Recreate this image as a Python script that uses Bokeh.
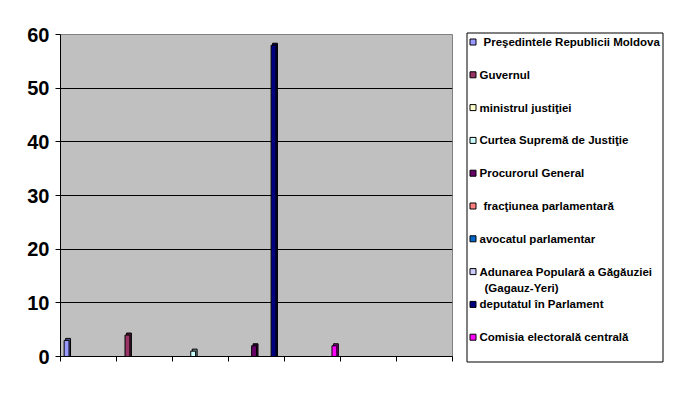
from bokeh.plotting import figure
from bokeh.layouts import row
from bokeh.models import Range1d, FixedTicker, ColumnDataSource
from bokeh.core.properties import value
from bokeh.embed import file_html
from bokeh.resources import INLINE

# ---------------- data ----------------
n_categories = 7
y_ticks = [0, 10, 20, 30, 40, 50, 60]

series_names = [
    " Preşedintele Republicii Moldova",
    "Guvernul",
    "ministrul justiţiei",
    "Curtea Supremă de Justiţie",
    "Procurorul General",
    " fracţiunea parlamentară",
    "avocatul parlamentar",
    "Adunarea Populară a Găgăuziei\n(Gagauz-Yeri)",
    "deputatul în Parlament",
    "Comisia electorală centrală",
]
series_colors = [
    "#9999FF", "#993366", "#FFFFCC", "#CCFFFF", "#660066",
    "#FF8080", "#0066CC", "#CCCCFF", "#000080", "#FF00FF",
]

presedintele = [3, 0, 0, 0, 0, 0, 0]
guvernul = [0, 4, 0, 0, 0, 0, 0]
ministrul = [0, 0, 0, 0, 0, 0, 0]
curtea = [0, 0, 1, 0, 0, 0, 0]
procurorul = [0, 0, 0, 2, 0, 0, 0]
fractiunea = [0, 0, 0, 0, 0, 0, 0]
avocatul = [0, 0, 0, 0, 0, 0, 0]
adunarea = [0, 0, 0, 0, 0, 0, 0]
deputatul = [0, 0, 0, 58, 0, 0, 0]
comisia = [0, 0, 0, 0, 2, 0, 0]

series_values = [presedintele, guvernul, ministrul, curtea, procurorul,
                 fractiunea, avocatul, adunarea, deputatul, comisia]

FONT = value("Liberation Sans")

# ---------------- chart ----------------
frame_w, frame_h = 392, 322
p = figure(width=462, height=394, output_backend="svg", toolbar_location=None,
           x_range=Range1d(0, n_categories), y_range=Range1d(0, 60),
           min_border_left=60, min_border_right=10, min_border_top=34,
           min_border_bottom=38, background_fill_color="#C0C0C0",
           border_fill_color="white", outline_line_color="#808080")
p.frame_align = False

p.yaxis.ticker = FixedTicker(ticks=y_ticks)
p.yaxis.major_label_text_font = "Liberation Sans"
p.yaxis.major_label_text_font_style = "bold"
p.yaxis.major_label_text_font_size = "20px"
p.yaxis.major_label_text_color = "black"
p.yaxis.axis_line_color = "black"
p.yaxis.major_tick_line_color = "black"
p.yaxis.major_tick_out = 5
p.yaxis.major_tick_in = 0
p.yaxis.minor_tick_line_color = None
p.yaxis.major_label_standoff = 6

p.xaxis.ticker = FixedTicker(ticks=list(range(n_categories + 1)))
p.xaxis.major_label_overrides = {i: "" for i in range(n_categories + 1)}
p.xaxis.axis_line_color = "black"
p.xaxis.major_tick_line_color = "black"
p.xaxis.major_tick_out = 5
p.xaxis.major_tick_in = 0
p.xaxis.minor_tick_line_color = None

p.xgrid.visible = False
p.ygrid.ticker = FixedTicker(ticks=y_ticks[1:-1])
p.ygrid.grid_line_color = "black"


def darken(hexcol, f=0.55):
    r, g, b = (int(hexcol[i:i + 2], 16) for i in (1, 3, 5))
    return "#%02x%02x%02x" % (int(r * f), int(g * f), int(b * f))


n_series = len(series_values)
gap = 1.5
w = 1.0 / (n_series + gap)
dx = 1.5 * n_categories / frame_w
dy = 2.0 * 60 / frame_h

bars = dict(left=[], right=[], top=[], color=[], shade=[])
for j, vals in enumerate(series_values):
    for i, v in enumerate(vals):
        if v <= 0:
            continue
        left = i + gap / 2 * w + j * w
        bars["left"].append(left)
        bars["right"].append(left + w)
        bars["top"].append(v)
        bars["color"].append(series_colors[j])
        bars["shade"].append(darken(series_colors[j]))

src = ColumnDataSource(bars)
shadow = ColumnDataSource(dict(
    left=[l + dx for l in bars["left"]],
    right=[r + dx for r in bars["right"]],
    top=[t + dy for t in bars["top"]],
    shade=bars["shade"],
))
p.quad(left="left", right="right", top="top", bottom=0, source=shadow,
       fill_color="shade", line_color="black", line_width=1)
p.quad(left="left", right="right", top="top", bottom=0, source=src,
       fill_color="color", line_color="black", line_width=1)

# ---------------- legend panel ----------------
lg = figure(width=211, height=394, output_backend="svg", toolbar_location=None,
            x_range=Range1d(0, 211), y_range=Range1d(394, 0),
            x_axis_type=None, y_axis_type=None, min_border=0,
            outline_line_color=None, background_fill_color="white",
            border_fill_color="white")
lg.frame_align = False
lg.xgrid.visible = False
lg.ygrid.visible = False

lg.quad(left=4.5, right=200.5, top=32.5, bottom=361.5, fill_color="white",
        line_color="black", line_width=1)

y0, step = 41.5, 32.8
mk = dict(left=[], right=[], top=[], bottom=[], color=[])
tx = dict(x=[], y=[], text=[])
for k, (name, col) in enumerate(zip(series_names, series_colors)):
    yc = y0 + k * step
    mk["left"].append(7.5)
    mk["right"].append(13.5)
    mk["top"].append(yc - 3)
    mk["bottom"].append(yc + 3)
    mk["color"].append(col)
    xoff = 21 if name.startswith(" ") else 17
    for li, line in enumerate(name.strip().split("\n")):
        tx["x"].append(xoff + (5 if li > 0 else 0))
        tx["y"].append(yc + li * 16.5)
        tx["text"].append(line)

lg.quad(left="left", right="right", top="top", bottom="bottom",
        source=ColumnDataSource(mk), fill_color="color", line_color="black",
        line_width=1)
lg.text(x="x", y="y", text="text", source=ColumnDataSource(tx),
        text_font=FONT, text_font_style="bold", text_font_size="11.5px",
        text_baseline="middle", text_align="left", text_color="black")

layout = row(p, lg, spacing=0)
open("out.html", "w").write(file_html(layout, INLINE))
